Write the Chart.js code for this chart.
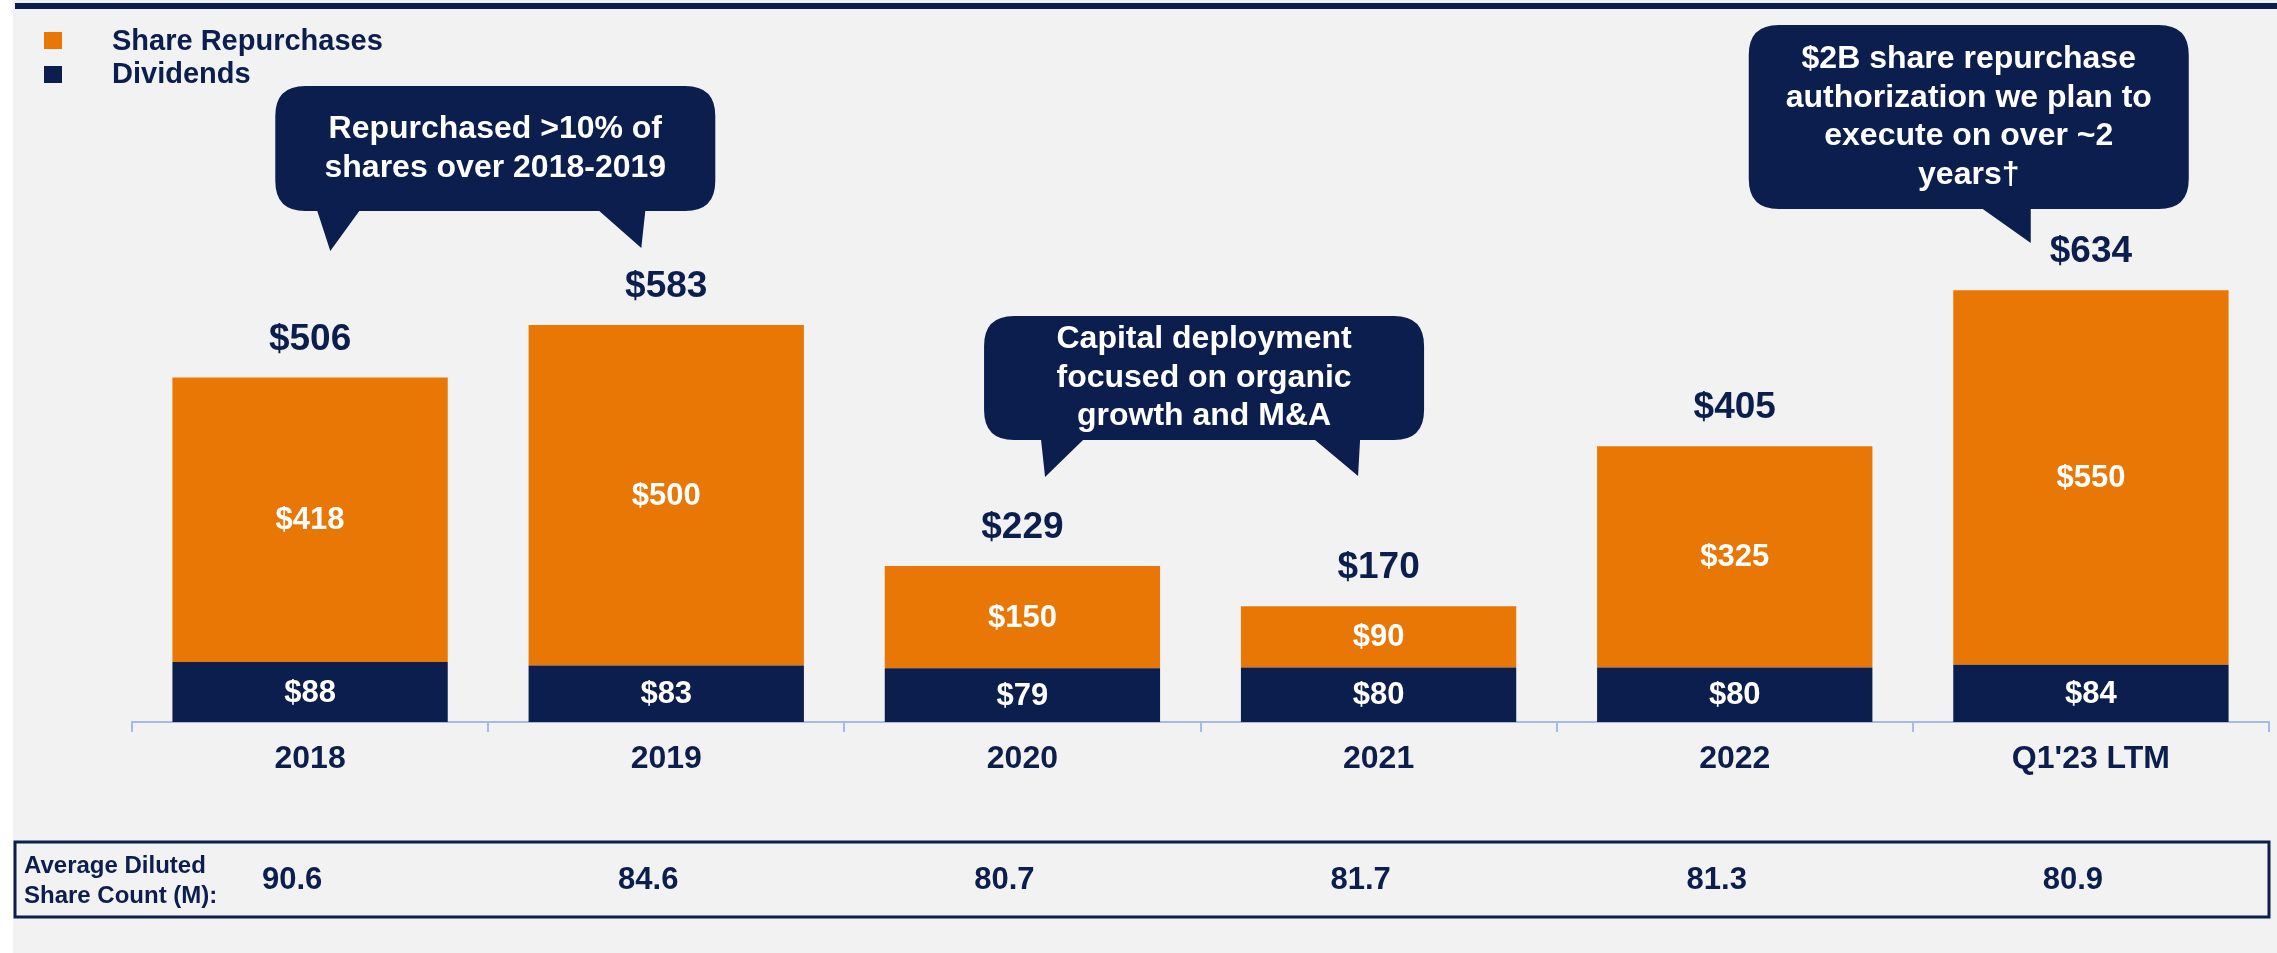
<!DOCTYPE html>
<html>
<head>
<meta charset="utf-8">
<script src="https://cdn.jsdelivr.net/npm/chart.js@4.4.1/dist/chart.umd.min.js"></script>
<style>
    html, body { margin: 0; padding: 0; background: #fff; overflow: hidden; }
</style>
</head>
<body>
<canvas id="capital" width="2277" height="953"></canvas>
<script>
const categories = ["2018", "2019", "2020", "2021", "2022", "Q1'23 LTM"];
const dividends = [88, 83, 79, 80, 80, 84];
const repurchases = [418, 500, 150, 90, 325, 550];
const shareCount = ["90.6", "84.6", "80.7", "81.7", "81.3", "80.9"];

const NAVY = "#0b1e4d";
const ORANGE = "#e97705";
const FONT = "'Liberation Sans', Arial, sans-serif";

// speech bubbles, center given in category units
const callouts = [
    { at: 0.52, top: 86, bottom: 211, lines: ["Repurchased >10% of", "shares over 2018-2019"],
      tails: [[42, 84, 55, 251], [324, 370, 366, 248]] },
    { at: 2.51, top: 316, bottom: 440, lines: ["Capital deployment", "focused on organic", "growth and M&A"],
      tails: [[57, 99, 61, 477], [331, 376, 374, 476]] },
    { at: 4.657, top: 25, bottom: 209, lines: ["$2B share repurchase", "authorization we plan to", "execute on over ~2", "years\u2020"],
      tails: [[234, 282, 282, 243]] }
];

function bubble(ctx, left, top, w, h, r, tails) {
    ctx.beginPath();
    ctx.moveTo(left + r, top);
    ctx.lineTo(left + w - r, top);
    ctx.quadraticCurveTo(left + w, top, left + w, top + r);
    ctx.lineTo(left + w, top + h - r);
    ctx.quadraticCurveTo(left + w, top + h, left + w - r, top + h);
    const sorted = tails.slice().sort((a, b) => b[0] - a[0]);
    sorted.forEach((t) => {
        ctx.lineTo(left + t[1], top + h);
        ctx.lineTo(left + t[2], t[3]);
        ctx.lineTo(left + t[0], top + h);
    });
    ctx.lineTo(left + r, top + h);
    ctx.quadraticCurveTo(left, top + h, left, top + h - r);
    ctx.lineTo(left, top + r);
    ctx.quadraticCurveTo(left, top, left + r, top);
    ctx.closePath();
    ctx.fill();
}

const decor = {
    id: "decor",
    beforeDraw(chart) {
        const ctx = chart.ctx;
        ctx.save();
        ctx.fillStyle = "#fff";
        ctx.fillRect(0, 0, chart.width, chart.height);
        ctx.fillStyle = "#f2f2f2";
        ctx.fillRect(13, 0, chart.width - 13, chart.height);
        ctx.fillStyle = NAVY;
        ctx.fillRect(15, 3, chart.width - 15, 6);
        ctx.restore();
    },
    afterDatasetsDraw(chart) {
        const ctx = chart.ctx;
        const x = chart.scales.x;
        const div = chart.getDatasetMeta(0).data;
        const rep = chart.getDatasetMeta(1).data;
        ctx.save();
        ctx.textAlign = "center";
        ctx.textBaseline = "middle";

        // labels inside the segments
        ctx.fillStyle = "#fff";
        ctx.font = "bold 31px " + FONT;
        div.forEach((bar, i) => {
            ctx.fillText("$" + dividends[i], bar.x, (bar.y + bar.base) / 2 + 1);
        });
        rep.forEach((bar, i) => {
            ctx.fillText("$" + repurchases[i], bar.x, (bar.y + bar.base) / 2 + 1);
        });

        // totals above the bars
        ctx.fillStyle = NAVY;
        ctx.font = "bold 37px " + FONT;
        rep.forEach((bar, i) => {
            ctx.fillText("$" + (dividends[i] + repurchases[i]), bar.x, bar.y - 38);
        });

        // legend
        ctx.textAlign = "left";
        ctx.font = "bold 29px " + FONT;
        ctx.fillStyle = ORANGE;
        ctx.fillRect(44, 32, 18, 17);
        ctx.fillStyle = NAVY;
        ctx.fillRect(44, 66, 18, 17);
        ctx.fillText(chart.data.datasets[1].label, 112, 42);
        ctx.fillText(chart.data.datasets[0].label, 112, 75);

        // share count table
        ctx.strokeStyle = NAVY;
        ctx.lineWidth = 3;
        ctx.strokeRect(15, 842, 2254, 75);
        ctx.font = "bold 24px " + FONT;
        ctx.fillText("Average Diluted", 24, 866);
        ctx.fillText("Share Count (M):", 24, 896);
        ctx.textAlign = "center";
        ctx.font = "bold 31px " + FONT;
        shareCount.forEach((v, i) => {
            ctx.fillText(v, x.getPixelForValue(i) - 18, 880);
        });

        // callouts
        const step = x.getPixelForValue(1) - x.getPixelForValue(0);
        callouts.forEach((c) => {
            const cx = x.getPixelForValue(0) + c.at * step;
            const w = 440;
            const left = cx - w / 2;
            ctx.fillStyle = NAVY;
            bubble(ctx, left, c.top, w, c.bottom - c.top, 30, c.tails);
            ctx.fillStyle = "#fff";
            ctx.font = "bold 32px " + FONT;
            const lh = 38.5;
            const mid = (c.top + c.bottom) / 2;
            c.lines.forEach((t, k) => {
                ctx.fillText(t, cx, mid + (k - (c.lines.length - 1) / 2) * lh);
            });
        });
        ctx.restore();
    }
};

new Chart("capital", {
    type: "bar",
    data: {
        labels: categories,
        datasets: [
            { label: "Dividends", data: dividends, backgroundColor: NAVY },
            { label: "Share Repurchases", data: repurchases, backgroundColor: ORANGE }
        ]
    },
    options: {
        responsive: false,
        animation: false,
        barPercentage: 0.773,
        categoryPercentage: 1,
        layout: { padding: { left: 132, right: 8, top: 41, bottom: 0 } },
        plugins: {
            legend: { display: false },
            tooltip: { enabled: false }
        },
        scales: {
            x: {
                stacked: true,
                offset: true,
                border: { color: "#a3bce6", width: 2 },
                grid: { offset: true, drawOnChartArea: false, tickLength: 10, color: "#a3bce6", lineWidth: 2 },
                ticks: { color: NAVY, padding: 8, font: { family: FONT, size: 32, weight: "bold" } },
                afterFit: (s) => { s.height = 953 - 722; }
            },
            y: {
                stacked: true,
                display: false,
                min: 0,
                max: 1000
            }
        }
    },
    plugins: [decor]
});
</script>
</body>
</html>
